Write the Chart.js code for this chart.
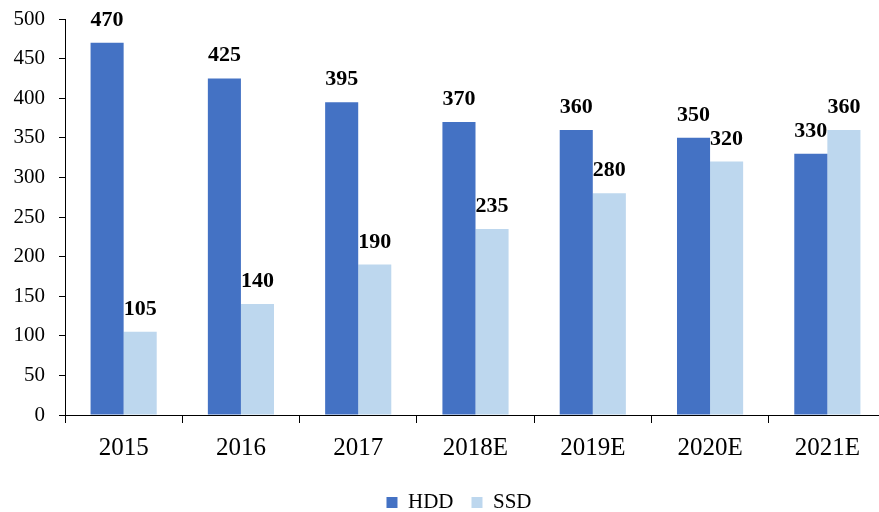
<!DOCTYPE html>
<html>
<head>
<meta charset="utf-8">
<script src="https://cdn.jsdelivr.net/npm/chart.js@4"></script>
<style>
  html, body { margin: 0; padding: 0; background: #fff; overflow: hidden; }
  #wrap { width: 900px; height: 512px; }
</style>
</head>
<body>
<div id="wrap"><canvas id="chart"></canvas></div>
<script>
const categories = ['2015', '2016', '2017', '2018E', '2019E', '2020E', '2021E'];
const hddValues = [470, 425, 395, 370, 360, 350, 330];
const ssdValues = [105, 140, 190, 235, 280, 320, 360];
const yTicks = [0, 50, 100, 150, 200, 250, 300, 350, 400, 450, 500];

Chart.defaults.font.family = '"Liberation Serif", "Times New Roman", serif';
Chart.defaults.color = '#000';

// value labels above each bar
const valueLabels = {
    id: 'valueLabels',
    afterDatasetsDraw(chart) {
        const ctx = chart.ctx;
        ctx.save();
        ctx.font = 'bold 22px "Liberation Serif", "Times New Roman", serif';
        ctx.fillStyle = '#000';
        ctx.textAlign = 'center';
        ctx.textBaseline = 'alphabetic';
        chart.data.datasets.forEach((ds, i) => {
            chart.getDatasetMeta(i).data.forEach((bar, j) => {
                ctx.fillText(String(ds.data[j]), bar.x, bar.y - 17);
            });
        });
        ctx.restore();
    }
};

// nudge the legend to where the original sits
const legendShift = {
    id: 'legendShift',
    afterLayout(chart) {
        const lg = chart.legend;
        if (!lg) return;
        lg.left += 16; lg.right += 16;
        lg.top += 13; lg.bottom += 13;
    }
};

const ctx = document.getElementById('chart').getContext('2d');

new Chart(ctx, {
    type: 'bar',
    data: {
        labels: categories,
        datasets: [
            { label: 'HDD', data: hddValues, backgroundColor: '#4472C4' },
            { label: 'SSD', data: ssdValues, backgroundColor: '#BDD7EE' }
        ]
    },
    options: {
        responsive: true,
        maintainAspectRatio: false,
        animation: false,
        layout: { padding: { top: 19, right: 14, bottom: 2, left: 0 } },
        datasets: { bar: { barPercentage: 1, categoryPercentage: 0.564 } },
        scales: {
            x: {
                grid: { drawOnChartArea: false, color: '#000', tickLength: 8, offset: true },
                border: { color: '#000', width: 1 },
                ticks: { font: { size: 25 }, padding: 10, color: '#000' },
                afterFit: s => {
                    s.height = 46;
                    s.paddingLeft = 0; s.paddingRight = 0;
                }
            },
            y: {
                min: 0,
                max: 500,
                afterBuildTicks: s => { s.ticks = yTicks.map(v => ({ value: v })); },
                grid: { drawOnChartArea: false, color: '#000', tickLength: 6 },
                border: { color: '#000', width: 1 },
                ticks: { font: { size: 21 }, padding: 14, color: '#000' },
                afterFit: s => {
                    s.width = 65;
                    s.paddingTop = 0; s.paddingBottom = 0;
                }
            }
        },
        plugins: {
            legend: {
                position: 'bottom',
                labels: {
                    boxWidth: 11,
                    boxHeight: 11,
                    padding: 18,
                    font: { size: 21 },
                    color: '#000'
                }
            },
            tooltip: { enabled: false }
        }
    },
    plugins: [valueLabels, legendShift]
});
</script>
</body>
</html>
